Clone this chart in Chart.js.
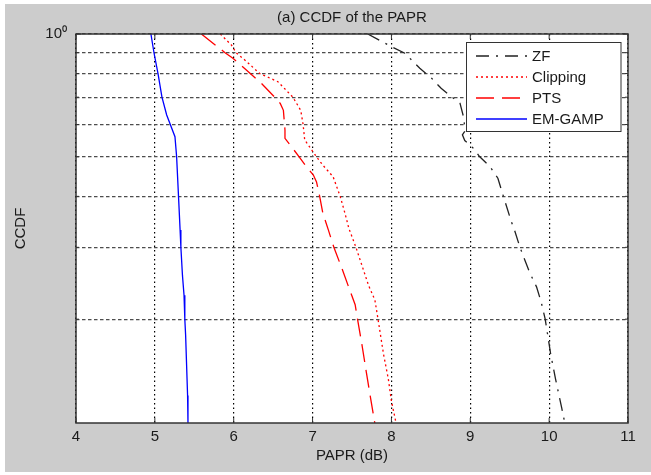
<!DOCTYPE html>
<html><head><meta charset="utf-8">
<script src="https://cdn.jsdelivr.net/npm/chart.js@4.4.1/dist/chart.umd.min.js"></script>
<style>html,body{margin:0;padding:0;background:#fff;}canvas{display:block;}</style>
</head><body>
<canvas id="c" width="651" height="475"></canvas>
<script>
// ---- data ----
const seriesNames = ['ZF', 'Clipping', 'PTS', 'EM-GAMP'];

const zfPapr = [7.70, 8.00, 8.17, 8.36, 8.51, 8.63, 8.77, 8.87, 8.92, 8.93, 8.90, 8.93, 9.02, 9.12, 9.25, 9.35, 9.42, 9.52, 9.56, 9.63, 9.75, 9.84, 9.90, 9.95, 10.02, 10.08, 10.16, 10.20];
const zfCcdf = [1.0, 0.931, 0.897, 0.824, 0.779, 0.736, 0.70, 0.676, 0.62, 0.577, 0.566, 0.548, 0.53, 0.50, 0.473, 0.443, 0.40, 0.347, 0.331, 0.30, 0.261, 0.240, 0.22, 0.20, 0.164, 0.143, 0.121, 0.111];

const clipPapr = [5.83, 5.97, 6.03, 6.14, 6.33, 6.56, 6.75, 6.85, 6.88, 6.90, 7.05, 7.13, 7.26, 7.35, 7.41, 7.46, 7.55, 7.71, 7.79, 7.83, 7.90, 7.96, 8.00, 8.06];
const clipCcdf = [1.0, 0.94, 0.90, 0.864, 0.80, 0.764, 0.70, 0.65, 0.60, 0.55, 0.50, 0.477, 0.447, 0.40, 0.364, 0.334, 0.30, 0.242, 0.223, 0.20, 0.164, 0.143, 0.126, 0.111];

const ptsPapr = [5.59, 5.89, 5.99, 6.21, 6.35, 6.52, 6.59, 6.63, 6.65, 6.65, 6.83, 6.92, 7.01, 7.05, 7.09, 7.13, 7.20, 7.27, 7.37, 7.45, 7.54, 7.57, 7.62, 7.68, 7.73, 7.79];
const ptsCcdf = [1.0, 0.90, 0.872, 0.80, 0.757, 0.70, 0.676, 0.65, 0.582, 0.555, 0.50, 0.473, 0.451, 0.434, 0.40, 0.364, 0.331, 0.30, 0.267, 0.242, 0.217, 0.20, 0.176, 0.149, 0.130, 0.111];

const gampPapr = [4.95, 4.99, 5.04, 5.09, 5.15, 5.255, 5.276, 5.30, 5.32, 5.33, 5.35, 5.37, 5.38, 5.39, 5.415, 5.42];
const gampCcdf = [1.0, 0.897, 0.80, 0.70, 0.633, 0.56, 0.50, 0.40, 0.331, 0.30, 0.256, 0.229, 0.20, 0.183, 0.13, 0.111];

const xTickValues = [4, 5, 6, 7, 8, 9, 10, 11];
const yGridValues = [0.2, 0.3, 0.4, 0.5, 0.6, 0.7, 0.8, 0.9, 1];
const yTickLabels = { 1: '10\u2070' };
const yMin = 0.1113, yMax = 1;
const titleText = '(a) CCDF of the PAPR';
const xTitle = 'PAPR (dB)';
const yTitle = 'CCDF';

// ---- styles ----
const FONT = '"Liberation Sans", Arial, Helvetica, sans-serif';
const FS = 15;
const TXT = '#1a1a1a';
const styles = [
  { color: '#222222', dash: [13, 7, 2, 7] },
  { color: '#ff0000', dash: [2, 3] },
  { color: '#ff0000', dash: [18, 8] },
  { color: '#0000ff', dash: [] }
];
const xs = [zfPapr, clipPapr, ptsPapr, gampPapr];
const ys = [zfCcdf, clipCcdf, ptsCcdf, gampCcdf];

const datasets = seriesNames.map((name, k) => ({
  label: name,
  data: xs[k].map((x, i) => ({ x: x, y: ys[k][i] })),
  borderColor: styles[k].color,
  borderDash: styles[k].dash,
  borderWidth: 1.3,
  pointRadius: 0,
  tension: 0,
  fill: false
}));

const bgPlugin = {
  id: 'bg',
  beforeDraw(chart) {
    const c = chart.ctx, a = chart.chartArea;
    c.save();
    c.fillStyle = '#ffffff';
    c.fillRect(0, 0, chart.width, chart.height);
    c.fillStyle = '#cccccc';
    c.fillRect(5, 4, chart.width - 5, 468);
    c.fillStyle = '#ffffff';
    c.fillRect(a.left, a.top, a.right - a.left, a.bottom - a.top);
    c.restore();
  }
};

const framePlugin = {
  id: 'frame',
  afterDatasetsDraw(chart) {
    const c = chart.ctx, a = chart.chartArea;
    const xs_ = chart.scales.x, ys_ = chart.scales.y;
    c.save();
    c.setLineDash([]);
    c.strokeStyle = '#333333';
    c.lineWidth = 1;
    // inward ticks
    c.beginPath();
    xTickValues.forEach(v => {
      const px = xs_.getPixelForValue(v);
      c.moveTo(px, a.bottom); c.lineTo(px, a.bottom - 5);
      c.moveTo(px, a.top); c.lineTo(px, a.top + 5);
    });
    yGridValues.forEach(v => {
      const py = ys_.getPixelForValue(v);
      const L = v === 1 ? 5 : 3;
      c.moveTo(a.left, py); c.lineTo(a.left + L, py);
      c.moveTo(a.right, py); c.lineTo(a.right - L, py);
    });
    c.stroke();
    // box
    c.lineWidth = 1.5;
    c.strokeRect(a.left, a.top, a.right - a.left, a.bottom - a.top);
    // legend
    const lx = 466.5, ly = 42.5, lw = 154.5, lh = 89;
    c.fillStyle = '#ffffff';
    c.fillRect(lx, ly, lw, lh);
    c.lineWidth = 1;
    c.strokeStyle = '#333333';
    c.strokeRect(lx, ly, lw, lh);
    c.font = FS + 'px ' + FONT;
    c.textBaseline = 'middle';
    c.textAlign = 'left';
    seriesNames.forEach((name, k) => {
      const yy = 56 + k * 21;
      c.beginPath();
      c.setLineDash(styles[k].dash);
      c.strokeStyle = styles[k].color;
      c.lineWidth = 1.3;
      c.moveTo(476, yy); c.lineTo(527, yy);
      c.stroke();
      c.setLineDash([]);
      c.fillStyle = TXT;
      c.fillText(name, 532, yy + 1);
    });
    c.restore();
  }
};

new Chart(document.getElementById('c').getContext('2d'), {
  type: 'line',
  data: { datasets: datasets },
  options: {
    responsive: false,
    animation: false,
    devicePixelRatio: 1,
    layout: { padding: { left: 0, right: 23, top: 0, bottom: 0 } },
    plugins: {
      legend: { display: false },
      tooltip: { enabled: false },
      title: {
        display: true, text: titleText, color: TXT, fullSize: false,
        font: { family: FONT, size: FS, weight: 'normal' },
        padding: { top: 9, bottom: 7 }
      }
    },
    scales: {
      x: {
        type: 'linear', min: 4, max: 11,
        afterFit: s => { s.height = 52; },
        afterBuildTicks: s => { s.ticks = xTickValues.map(v => ({ value: v })); },
        ticks: { padding: 5, color: TXT, font: { family: FONT, size: FS }, autoSkip: false, maxRotation: 0 },
        grid: { color: '#000000', lineWidth: 1.2, drawTicks: false },
        border: { display: false, dash: [1.5, 3] },
        title: { display: true, text: xTitle, color: TXT, font: { family: FONT, size: FS }, padding: { top: 0, bottom: 10 } }
      },
      y: {
        type: 'logarithmic', min: yMin, max: yMax,
        afterFit: s => { s.width = 76; },
        afterBuildTicks: s => { s.ticks = yGridValues.map(v => ({ value: v })); },
        ticks: { padding: 9, color: TXT, font: { family: FONT, size: FS }, autoSkip: false, callback: v => yTickLabels[v] || '' },
        grid: { color: '#4d4d4d', lineWidth: 1.2, drawTicks: false },
        border: { display: false, dash: [3.5, 2.5] },
        title: { display: true, text: yTitle, color: TXT, font: { family: FONT, size: FS }, padding: { top: 12, bottom: 0 } }
      }
    }
  },
  plugins: [bgPlugin, framePlugin]
});
</script>
</body></html>
